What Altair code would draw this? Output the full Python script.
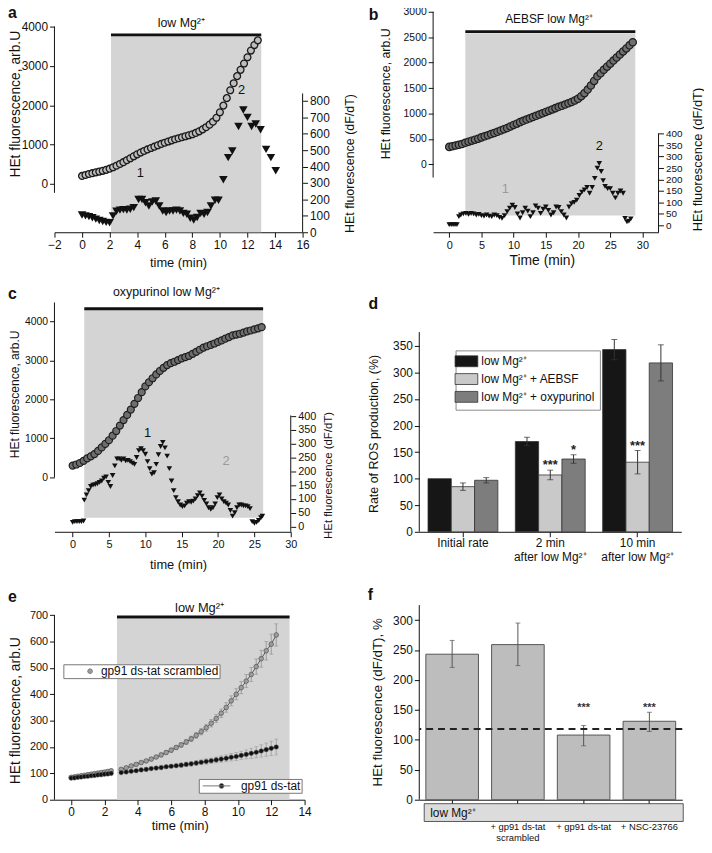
import altair as alt
import pandas as pd

FONT = "Liberation Sans"
INK = "#111111"
SHADE = "#d4d4d4"

# ---------------- panel a data ----------------
a_circle_t = [0, 0.25, 0.5, 0.75, 1.0, 1.25, 1.5, 1.75, 2.0, 2.25, 2.5, 2.75, 3.0, 3.25, 3.5, 3.75,
              4.0, 4.25, 4.5, 4.75, 5.0, 5.25, 5.5, 5.75, 6.0, 6.25, 6.5, 6.75, 7.0, 7.25, 7.5, 7.75,
              8.0, 8.25, 8.5, 8.75, 9.0, 9.25, 9.5, 9.75, 10.0, 10.25, 10.5, 10.75, 11.0, 11.25, 11.5,
              11.75, 12.0, 12.25, 12.5, 12.75]
a_circle_v = [200, 225, 250, 270, 290, 310, 330, 355, 385, 420, 460, 505, 550, 600, 650, 700, 750, 795,
              835, 875, 910, 945, 980, 1015, 1045, 1075, 1105, 1135, 1160, 1185, 1210, 1235, 1260, 1295,
              1335, 1385, 1440, 1505, 1580, 1680, 1820, 1990, 2180, 2380, 2560, 2740, 2900, 3060, 3220,
              3390, 3530, 3650]
a_tri_t = [0, 0.25, 0.5, 0.75, 1.0, 1.25, 1.5, 1.75, 2.0, 2.25, 2.5, 2.75, 3.0, 3.25, 3.5, 3.75, 4.1,
           4.35, 4.6, 4.85, 5.1, 5.35, 5.6, 5.85, 6.1, 6.35, 6.6, 6.85, 7.1, 7.35, 7.6, 7.85, 8.1, 8.35,
           8.6, 8.85, 9.1, 9.35, 9.65, 9.9, 10.25, 10.6, 10.9, 11.35, 11.7, 12.0, 12.3, 12.6, 12.95,
           13.35, 13.7, 14.05]
a_tri_v = [105, 100, 95, 88, 80, 72, 65, 60, 58, 100, 128, 135, 138, 135, 140, 150, 200, 200, 180, 160,
           185, 190, 160, 130, 120, 130, 130, 135, 130, 115, 110, 85, 75, 90, 115, 110, 120, 160, 195,
           195, 320, 455, 495, 645, 745, 700, 645, 660, 625, 505, 455, 375]
a_period = [2.1, 13.0]

# ---------------- panel b data ----------------
b_circle_t = [i * 0.5 for i in range(58)]
b_circle_v = [343, 355, 370, 385, 400, 425, 445, 465, 485, 505, 530, 550, 570, 595, 615, 640, 665, 690,
              715, 745, 775, 800, 830, 855, 880, 905, 930, 955, 980, 1005, 1030, 1055, 1080, 1105, 1130,
              1150, 1175, 1200, 1225, 1255, 1290, 1340, 1400, 1470, 1550, 1640, 1730, 1790, 1860, 1920,
              1980, 2040, 2100, 2160, 2220, 2280, 2340, 2400]
b_tri_t = [0, 0.3, 0.6, 0.9, 1.2, 1.5, 1.8, 2.2, 2.6, 3.0, 3.4, 3.8, 4.2, 4.6, 5.0, 5.4, 5.8, 6.2, 6.6,
           7.0, 7.4, 7.8, 8.2, 8.6, 9.0, 9.4, 9.8, 10.2, 10.6, 11.0, 11.4, 11.8, 12.2, 12.6, 13.0, 13.4,
           13.8, 14.2, 14.6, 15.0, 15.4, 15.8, 16.2, 16.6, 17.0, 17.4, 17.8, 18.2, 18.6, 19.0, 19.4,
           19.8, 20.2, 20.6, 21.0, 21.4, 21.8, 22.2, 22.6, 23.0, 23.3, 23.6, 23.9, 24.2, 24.6, 25.0,
           25.4, 25.8, 26.2, 26.6, 27.0, 27.3, 27.6, 27.9, 28.2]
b_tri_v = [3, 3, 3, 3, 3, 38, 45, 50, 52, 48, 52, 50, 45, 48, 42, 40, 45, 40, 38, 45, 42, 35, 30, 42,
           60, 75, 88, 78, 50, 32, 55, 75, 62, 38, 55, 85, 75, 52, 70, 80, 65, 45, 55, 80, 78, 60, 45,
           32, 80, 95, 100, 110, 130, 145, 155, 165, 140, 165, 205, 250, 270, 235, 195, 170, 160, 160,
           140, 120, 140, 150, 140, 30, 15, 18, 28]
b_period = [2.5, 28.9]

# ---------------- panel c data ----------------
c_circle_t = [i * 0.5 for i in range(53)]
c_circle_v = [297, 325, 364, 420, 483, 535, 593, 675, 763, 855, 949, 1065, 1186, 1325, 1466, 1600, 1737,
              1885, 2034, 2185, 2331, 2440, 2542, 2640, 2729, 2810, 2881, 2930, 2966, 3010, 3051, 3085,
              3119, 3170, 3220, 3275, 3331, 3365, 3398, 3435, 3475, 3515, 3559, 3600, 3644, 3665, 3686,
              3716, 3746, 3770, 3797, 3825, 3856]
c_tri_t = [0, 0.3, 0.6, 0.9, 1.2, 1.5, 1.6, 1.9, 2.2, 2.5, 2.8, 3.1, 3.4, 3.7, 4.0, 4.3, 4.6, 4.9, 5.2,
           5.5, 5.8, 6.1, 6.4, 6.7, 7.0, 7.3, 7.6, 7.9, 8.2, 8.5, 8.8, 9.1, 9.4, 9.7, 10.0, 10.3, 10.6,
           10.9, 11.2, 11.5, 11.8, 12.1, 12.4, 12.7, 13.0, 13.3, 13.6, 13.9, 14.2, 14.5, 14.8, 15.1,
           15.4, 15.7, 16.0, 16.3, 16.6, 16.9, 17.2, 17.5, 17.8, 18.1, 18.4, 18.7, 19.0, 19.3, 19.6,
           19.9, 20.2, 20.5, 20.8, 21.1, 21.4, 21.7, 22.0, 22.3, 22.6, 22.9, 23.2, 23.5, 23.8, 24.1,
           24.4, 24.7, 25.0, 25.3, 25.6, 25.9, 26.1]
c_tri_v = [15, 18, 18, 18, 18, 20, 96, 115, 130, 145, 150, 152, 155, 160, 165, 175, 180, 160, 145, 185,
           220, 245, 245, 240, 245, 238, 240, 235, 230, 225, 250, 275, 282, 275, 262, 235, 210, 190, 195,
           225, 260, 290, 305, 285, 255, 210, 165, 130, 105, 90, 78, 72, 75, 85, 90, 88, 92, 100, 112,
           122, 110, 95, 82, 68, 62, 68, 82, 105, 115, 100, 90, 85, 78, 58, 38, 50, 68, 78, 78, 75, 75,
           72, 65, 18, 12, 15, 22, 32, 38]
c_period = [1.6, 26.2]

# ---------------- panel d data ----------------
d_groups = ["Initial rate", "2 min\nafter low Mg²⁺", "10 min\nafter low Mg²⁺"]
d_series = ["low Mg²⁺", "low Mg²⁺ + AEBSF", "low Mg²⁺ + oxypurinol"]
d_low = [100, 170, 343]
d_low_err = [0, 8, 19]
d_aebsf = [85, 107, 131]
d_aebsf_err = [7, 9, 22]
d_oxy = [97, 137, 318]
d_oxy_err = [5, 8, 34]
d_aebsf_sig = ["", "***", "***"]
d_oxy_sig = ["", "*", ""]
d_colors = ["#161616", "#c9c9c9", "#7d7d7d"]

# ---------------- panel e data ----------------
e_t = [0, 0.2, 0.4, 0.6, 0.8, 1.0, 1.2, 1.4, 1.6, 1.8, 2.0, 2.2, 2.4,
       3.0, 3.3, 3.6, 3.9, 4.2, 4.5, 4.8, 5.1, 5.4, 5.7, 6.0, 6.3, 6.6, 6.9, 7.2, 7.5, 7.8, 8.1, 8.4,
       8.7, 9.0, 9.3, 9.6, 9.9, 10.2, 10.5, 10.8, 11.1, 11.4, 11.7, 12.0, 12.3]
e_seg = ["before"] * 13 + ["after"] * 32
e_scr = [85, 87, 89, 91, 93, 95, 97, 99, 101, 103, 105, 107, 110,
         115, 121, 128, 134, 141, 147, 154, 162, 170, 179, 188, 198, 208, 219, 231, 244, 258, 273, 290,
         308, 328, 350, 375, 400, 425, 450, 475, 505, 535, 565, 590, 625]
e_scr_err = [3, 3, 3, 4, 4, 4, 4, 5, 5, 5, 5, 6, 6,
             4, 4, 5, 5, 5, 6, 6, 6, 7, 7, 8, 8, 9, 9, 10, 11, 12, 13, 14, 15, 16, 18, 19, 21, 23, 25,
             27, 29, 32, 35, 38, 42]
e_ds = [82, 83, 85, 86, 88, 89, 91, 92, 94, 95, 97, 98, 100,
        103, 105, 108, 110, 113, 115, 118, 120, 122, 125, 127, 129, 131, 134, 136, 139, 142, 145, 148,
        151, 154, 157, 161, 164, 168, 172, 176, 180, 185, 190, 195, 200]
e_ds_err = [3, 3, 3, 3, 4, 4, 4, 4, 5, 5, 5, 5, 6,
            3, 3, 4, 4, 4, 5, 5, 5, 6, 6, 6, 7, 7, 8, 8, 9, 9, 10, 10, 11, 12, 13, 14, 15, 16, 17, 19,
            21, 23, 25, 27, 30]
e_names = ["gp91 ds-tat scrambled", "gp91 ds-tat"]
e_period = [2.75, 13.1]

# ---------------- panel f data ----------------
f_cats = ["low Mg²⁺", "+ gp91 ds-tat\nscrambled", "+ gp91 ds-tat", "+ NSC-23766"]
f_mean = [243, 259, 108, 131]
f_lo = [221, 224, 90, 114]
f_hi = [266, 295, 124, 146]
f_sig = ["", "", "***", "***"]
f_baseline = 118
f_sig_level = 158

one = pd.DataFrame({"k": [0]})

# legend anchors (orient "none" legends are placed relative to panel a's origin)
LEG_D = (405.7, 344.5)
LEG_E1 = (9, 662)
LEG_E2 = (146, 778)


def ax(**kw):
    d = dict(labelFont=FONT, titleFont=FONT, labelColor=INK, titleColor=INK, tickColor=INK,
             domainColor=INK, grid=False, labelFontWeight="normal", titleFontWeight="normal",
             tickSize=5, labelPadding=2, labelFlush=False, labelOverlap=False, tickWidth=1,
             domainWidth=1)
    d.update(kw)
    return alt.Axis(**d)


def letter(ch, x, y):
    return alt.Chart(one).mark_text(text=ch, font=FONT, fontSize=16, fontWeight="bold", color=INK,
                                    align="left", baseline="alphabetic").encode(
        x=alt.value(x), y=alt.value(y))


def time_panel(p):
    W, H = p["W"], p["H"]
    xs = alt.Scale(domain=p["xdom"], nice=False, zero=False)
    xa = ax(values=p["xticks"], format="d", title=p["xtitle"], titleX=p["xtitle_xy"][0],
            titleY=p["xtitle_xy"][1], titleBaseline="middle", titleAlign="center",
            labelFontSize=p["xfont"], titleFontSize=p["xtitle_font"])
    ls = alt.Scale(domain=p["ldom"], nice=False, zero=False)
    la = ax(orient="left", values=p["lticks"], format="d", domain=False, title="HEt fluorescence, arb.U",
            titleAngle=270, titleX=p["ltitle_xy"][0], titleY=p["ltitle_xy"][1], titleBaseline="middle",
            titleAlign="center", labelFontSize=p["lfont"], titleFontSize=p["ltitle_font"])
    rs = alt.Scale(domain=p["rdom"], nice=False, zero=False)
    ra = ax(orient="right", values=p["rticks"], format="d", domain=False, title="HEt fluorescence (dF/dT)",
            titleAngle=270, titleX=p["rtitle_xy"][0], titleY=p["rtitle_xy"][1], titleBaseline="middle",
            titleAlign="center", labelFontSize=p["rfont"], titleFontSize=p["rtitle_font"])

    def X(f):
        return alt.X(f, type="quantitative", scale=xs, axis=xa)

    def XD(v):
        return alt.XDatum(v, type="quantitative", scale=xs, axis=xa)

    def YL(f):
        return alt.Y(f, type="quantitative", scale=ls, axis=la)

    def YLD(v):
        return alt.YDatum(v, type="quantitative", scale=ls, axis=la)

    def YR(f):
        return alt.Y(f, type="quantitative", scale=rs, axis=ra)

    def YRD(v):
        return alt.YDatum(v, type="quantitative", scale=rs, axis=ra)

    per = pd.DataFrame({"t0": [p["period"][0]], "t1": [p["period"][1]]})
    circ = pd.DataFrame({"t": p["circ_t"], "v": p["circ_v"]})
    tri = pd.DataFrame({"t": p["tri_t"], "v": p["tri_v"]})
    y2 = alt.value(H) if p["shade_bot"] == "axis" else alt.Y2Datum(p["shade_bot"])
    cs = p["circ_style"]
    left = [
        alt.Chart(per).mark_rect(color=SHADE).encode(x=X("t0"), x2=alt.X2("t1"),
                                                     y=YLD(p["shade_top"]), y2=y2),
        alt.Chart(per).mark_rule(color=INK, strokeWidth=3).encode(x=X("t0"), x2=alt.X2("t1"),
                                                                  y=YLD(p["bar_y"])),
        alt.Chart(one).mark_rule(color=INK, strokeWidth=1).encode(
            x=alt.value(0), y=YLD(p["lrule"][0]), y2=alt.Y2Datum(p["lrule"][1])),
        alt.Chart(circ).mark_point(shape="circle", filled=True, size=cs["size"], fill=cs["fill"],
                                   stroke=cs["stroke"], strokeWidth=cs["sw"], opacity=1).encode(
            x=X("t"), y=YL("v")),
        alt.Chart(one).mark_text(text=p["cond"], font=FONT, fontSize=p["cond_font"], color=INK,
                                 baseline="middle").encode(x=XD(p["cond_xy"][0]), y=YLD(p["cond_xy"][1])),
        letter(p["letter"], p["letter_xy"][0], p["letter_xy"][1]),
    ]
    for txt, t, v, col in p["left_labels"]:
        left.append(alt.Chart(one).mark_text(text=txt, font=FONT, fontSize=13, color=col,
                                             baseline="middle").encode(x=XD(t), y=YLD(v)))
    right = [
        alt.Chart(tri).mark_point(shape="triangle-down", filled=True, color=INK, size=p["tri_size"],
                                  opacity=1).encode(x=X("t"), y=YR("v")),
        alt.Chart(one).mark_rule(color=INK, strokeWidth=1).encode(
            x=alt.value(W), y=YRD(p["rrule"][0]), y2=alt.Y2Datum(p["rrule"][1])),
    ]
    for txt, t, v, col in p["right_labels"]:
        right.append(alt.Chart(one).mark_text(text=txt, font=FONT, fontSize=13, color=col,
                                              baseline="middle").encode(x=XD(t), y=YRD(v)))
    return alt.layer(alt.layer(*left), alt.layer(*right)).resolve_scale(y="independent").properties(
        width=W, height=H)


panel_a = time_panel(dict(
    W=251, H=225, letter="a", letter_xy=(-47, 8),
    xdom=[-2, 16], xticks=list(range(-2, 17, 2)), xtitle="time (min)", xtitle_xy=(125, 31), xfont=12,
    xtitle_font=13,
    ldom=[-1233, 4428], lticks=[0, 1000, 2000, 3000, 4000], lrule=[-230, 4000], ltitle_xy=(-39, 95),
    lfont=12, ltitle_font=14,
    rdom=[0, 1356], rticks=list(range(0, 801, 100)), rrule=[0, 846], rtitle_xy=(47, 155), rfont=12,
    rtitle_font=12.6,
    circ_t=a_circle_t, circ_v=a_circle_v, circ_style=dict(size=48, fill="#bdbdbd", stroke="#1a1a1a", sw=1.3),
    tri_t=a_tri_t, tri_v=a_tri_v, tri_size=75, period=a_period, shade_top=3770, shade_bot="axis",
    bar_y=3790, cond="low Mg²⁺", cond_xy=(7.2, 4100), cond_font=12.5,
    left_labels=[("1", 4.22, 270, INK), ("2", 11.58, 2397, INK)], right_labels=[]))

panel_b = time_panel(dict(
    W=228, H=225, letter="b", letter_xy=(-65, 10),
    xdom=[-2.5, 32.5], xticks=list(range(0, 31, 5)), xtitle="Time (min)", xtitle_xy=(110, 28.5),
    xfont=11, xtitle_font=14,
    ldom=[-1336, 3039], lticks=list(range(0, 3001, 500)), lrule=[-260, 3000], ltitle_xy=(-48, 84.5),
    lfont=10.5, ltitle_font=12.5,
    rdom=[-30.2, 940.7], rticks=list(range(0, 401, 50)), rrule=[-30.2, 402], rtitle_xy=(39, 151),
    rfont=10, rtitle_font=13,
    circ_t=b_circle_t, circ_v=b_circle_v, circ_style=dict(size=55, fill="#707070", stroke="#1e1e1e", sw=1.2),
    tri_t=b_tri_t, tri_v=b_tri_v, tri_size=32, period=b_period, shade_top=2580, shade_bot=-1005,
    bar_y=2610, cond="AEBSF low Mg²⁺", cond_xy=(15.5, 2850), cond_font=12,
    left_labels=[], right_labels=[("1", 8.7, 158, "#9a9a9a"), ("2", 23.3, 345, INK)]))

panel_c = time_panel(dict(
    W=239, H=245, letter="c", letter_xy=(-47, 9.7),
    xdom=[-2.5, 30], xticks=list(range(0, 31, 5)), xtitle="time (min)", xtitle_xy=(125, 33), xfont=11,
    xtitle_font=13,
    ldom=[-1405, 4821], lticks=[0, 1000, 2000, 3000, 4000], lrule=[0, 4490], ltitle_xy=(-40, 105.5),
    lfont=10.5, ltitle_font=12.2,
    rdom=[-19, 858.4], rticks=list(range(0, 401, 50)), rrule=[-19, 402.5], rtitle_xy=(38.5, 187.5),
    rfont=11, rtitle_font=11.5,
    circ_t=c_circle_t, circ_v=c_circle_v, circ_style=dict(size=50, fill="#6e6e6e", stroke="#1e1e1e", sw=1.2),
    tri_t=c_tri_t, tri_v=c_tri_v, tri_size=32, period=c_period, shade_top=4300, shade_bot=-1042,
    bar_y=4330, cond="oxypurinol low Mg²⁺", cond_xy=(12.9, 4745), cond_font=12.5,
    left_labels=[], right_labels=[("1", 10.3, 340, INK), ("2", 21.1, 239, "#9a9a9a")]))

# ---------------- panel d ----------------
rows = []
for s, vals, errs, sig in [(d_series[0], d_low, d_low_err, ["", "", ""]),
                           (d_series[1], d_aebsf, d_aebsf_err, d_aebsf_sig),
                           (d_series[2], d_oxy, d_oxy_err, d_oxy_sig)]:
    for g, v, e, sg in zip(d_groups, vals, errs, sig):
        rows.append({"group": g, "series": s, "mean": v, "err": e, "lo": v - e, "hi": v + e, "sig": sg})
d_df = pd.DataFrame(rows)


def bar_panel_d():
    W, H = 265, 245
    ys = alt.Scale(domain=[0, 456], nice=False, zero=False)
    ya = ax(values=list(range(0, 351, 50)), format="d", domain=False, title="Rate of ROS production, (%)",
            titleAngle=270, titleX=-46, titleY=145.5, titleBaseline="middle", titleAlign="center",
            labelFontSize=12, titleFontSize=12.6)
    xa = ax(title=None, labelAngle=0, labelFontSize=12, labelLineHeight=14, labelPadding=1,
            labelExpr="split(datum.label, '\\n')")
    xs = alt.Scale(paddingInner=0.2, paddingOuter=0.1)

    def X():
        return alt.X("group:N", sort=d_groups, scale=xs, axis=xa)

    def XO():
        return alt.XOffset("series:N", sort=d_series, scale=alt.Scale(paddingInner=0, paddingOuter=0))

    def Y(f):
        return alt.Y(f, type="quantitative", scale=ys, axis=ya)

    base = alt.Chart(d_df)
    bars = base.mark_bar(stroke="#333", strokeWidth=0.8, opacity=1).encode(
        x=X(), xOffset=XO(), y=Y("mean"),
        color=alt.Color("series:N", sort=d_series,
                        scale=alt.Scale(domain=d_series, range=d_colors),
                        legend=alt.Legend(orient="none", legendX=LEG_D[0], legendY=LEG_D[1], title=None,
                                          symbolType="M-2.09,-1H2.09V1H-2.09Z", symbolSize=121,
                                          symbolStrokeColor="#333", symbolStrokeWidth=0.8,
                                          labelFont=FONT, labelFontSize=12, labelColor=INK,
                                          labelOffset=9, padding=5, rowPadding=2,
                                          strokeColor="#8a8a8a", fillColor="white")))
    eb = base.transform_filter("datum.err > 0")
    err = eb.mark_rule(color="#333", strokeWidth=1).encode(x=X(), xOffset=XO(), y=Y("lo"),
                                                           y2=alt.Y2("hi"))
    cap_hi = eb.mark_tick(orient="horizontal", size=6, thickness=1, color="#333").encode(
        x=X(), xOffset=XO(), y=Y("hi"))
    cap_lo = eb.mark_tick(orient="horizontal", size=6, thickness=1, color="#333").encode(
        x=X(), xOffset=XO(), y=Y("lo"))
    stars = base.transform_filter("datum.sig != ''").mark_text(
        font=FONT, fontSize=13, fontWeight="bold", color="#222", baseline="alphabetic", dy=-1).encode(
        x=X(), xOffset=XO(), y=Y("hi"), text="sig:N")
    rule = alt.Chart(one).mark_rule(color=INK, strokeWidth=1).encode(
        x=alt.value(0), y=alt.YDatum(0, type="quantitative", scale=ys, axis=ya), y2=alt.Y2Datum(376))
    return alt.layer(rule, bars, err, cap_hi, cap_lo, stars,
                     letter("d", -51.3, 19.7)).properties(width=W, height=H)


# ---------------- panel e ----------------
n_e = len(e_t)
e_df = pd.DataFrame({
    "t": e_t + e_t,
    "v": e_scr + e_ds,
    "err": e_scr_err + e_ds_err,
    "seg": e_seg + e_seg,
    "series": [e_names[0]] * n_e + [e_names[1]] * n_e,
})
e_df["lo"] = e_df["v"] - e_df["err"]
e_df["hi"] = e_df["v"] + e_df["err"]

SCR_SYM = "M7.47,0A0.8,0.8 0 1 1 5.87,0A0.8,0.8 0 1 1 7.47,0Z"
DS_SYM = "M-1,0H8.33M6.13,0A0.8,0.8 0 1 1 4.53,0A0.8,0.8 0 1 1 6.13,0Z"


def panel_e_chart():
    W, H = 253, 212
    xs = alt.Scale(domain=[-1, 14], nice=False, zero=False)
    xa = ax(values=list(range(0, 15, 2)), format="d", title="time (min)", titleX=126.7, titleY=26.5,
            titleBaseline="middle", titleAlign="center", labelFontSize=12, titleFontSize=13)
    ys = alt.Scale(domain=[0, 795], nice=False, zero=False)
    ya = ax(values=list(range(0, 701, 100)), format="d", domain=False, title="HEt fluorescence, arb.U",
            titleAngle=270, titleX=-39, titleY=121.5, titleBaseline="middle", titleAlign="center",
            labelFontSize=11, titleFontSize=14)

    def X(f):
        return alt.X(f, type="quantitative", scale=xs, axis=xa)

    def Y(f):
        return alt.Y(f, type="quantitative", scale=ys, axis=ya)

    def YD(v):
        return alt.YDatum(v, type="quantitative", scale=ys, axis=ya)

    per = pd.DataFrame({"t0": [e_period[0]], "t1": [e_period[1]]})
    shade = alt.Chart(per).mark_rect(color=SHADE).encode(x=X("t0"), x2=alt.X2("t1"), y=YD(686),
                                                         y2=alt.value(H))
    bar = alt.Chart(per).mark_rule(color=INK, strokeWidth=3).encode(x=X("t0"), x2=alt.X2("t1"), y=YD(693))
    cond = alt.Chart(one).mark_text(text="low Mg²⁺", font=FONT, fontSize=13, color=INK,
                                    baseline="middle").encode(
        x=alt.XDatum(7.7, type="quantitative", scale=xs, axis=xa), y=YD(728))
    rule = alt.Chart(one).mark_rule(color=INK).encode(x=alt.value(0), y=YD(0), y2=alt.Y2Datum(700))

    scr = alt.Chart(e_df).transform_filter(alt.datum.series == e_names[0])
    ds = alt.Chart(e_df).transform_filter(alt.datum.series == e_names[1])
    layers = [shade, bar, cond, rule]
    for src, ecol in [(scr, "#8c8c8c"), (ds, "#9a9a9a")]:
        layers.append(src.mark_rule(color=ecol, strokeWidth=0.8).encode(x=X("t"), y=Y("lo"), y2=alt.Y2("hi")))
        layers.append(src.mark_tick(orient="horizontal", size=4, thickness=0.8, color=ecol).encode(
            x=X("t"), y=Y("hi")))
        layers.append(src.mark_tick(orient="horizontal", size=4, thickness=0.8, color=ecol).encode(
            x=X("t"), y=Y("lo")))
    layers.append(scr.mark_line(color="#555", strokeWidth=1).encode(x=X("t"), y=Y("v"), detail="seg:N"))
    layers.append(scr.mark_point(filled=True, size=22, stroke="#444", strokeWidth=0.6, opacity=1).encode(
        x=X("t"), y=Y("v"),
        fill=alt.Fill("series:N", scale=alt.Scale(domain=[e_names[0]], range=["#9c9c9c"]),
                      legend=alt.Legend(orient="none", legendX=LEG_E1[0], legendY=LEG_E1[1],
                                        title=None, symbolType=SCR_SYM, symbolSize=36,
                                        symbolStrokeColor="#555", symbolStrokeWidth=0.6, labelOffset=25,
                                        padding=1, labelFont=FONT, labelFontSize=12, labelColor=INK,
                                        strokeColor="#777", fillColor="white"))))
    layers.append(ds.mark_line(color=INK, strokeWidth=1.5).encode(x=X("t"), y=Y("v"), detail="seg:N"))
    layers.append(ds.mark_point(filled=True, size=22, fill=INK, strokeWidth=0.5, opacity=1).encode(
        x=X("t"), y=Y("v"),
        stroke=alt.Stroke("series:N", scale=alt.Scale(domain=[e_names[1]], range=["#777777"]),
                          legend=alt.Legend(orient="none", legendX=LEG_E2[0], legendY=LEG_E2[1],
                                            title=None, symbolType=DS_SYM, symbolSize=36,
                                            symbolFillColor=INK, symbolStrokeWidth=1, labelOffset=29.7,
                                            padding=1, labelFont=FONT, labelFontSize=12, labelColor=INK,
                                            strokeColor="#777", fillColor="white"))))
    layers.append(letter("e", -47, 12.3))
    return alt.layer(*layers).properties(width=W, height=H)


# ---------------- panel f ----------------
f_df = pd.DataFrame({"cat": f_cats, "mean": f_mean, "lo": f_lo, "hi": f_hi, "sig": f_sig})


def panel_f_chart():
    W, H = 266, 212
    ys = alt.Scale(domain=[0, 350], nice=False, zero=False)
    ya = ax(values=list(range(0, 301, 50)), format="d", domain=False, title="HEt fluorescence (dF/dT), %",
            titleAngle=270, titleX=-42, titleY=113, titleBaseline="middle", titleAlign="center",
            labelFontSize=12, titleFontSize=13.5)
    xa = ax(title=None, labelAngle=0, labelFontSize=9.5, labelLineHeight=11, labelPadding=18, tickSize=4,
            labelExpr="datum.index == 0 ? '' : split(datum.label, '\\n')")
    xs = alt.Scale(paddingInner=0.2, paddingOuter=0.1)

    def X():
        return alt.X("cat:N", sort=f_cats, scale=xs, axis=xa)

    def Y(f):
        return alt.Y(f, type="quantitative", scale=ys, axis=ya)

    base = alt.Chart(f_df)
    bars = base.mark_bar(color="#bdbdbd", stroke="#555", strokeWidth=1).encode(x=X(), y=Y("mean"))
    err = base.mark_rule(color="#555", strokeWidth=1).encode(x=X(), y=Y("lo"), y2=alt.Y2("hi"))
    cap_hi = base.mark_tick(orient="horizontal", size=5, thickness=1, color="#555").encode(x=X(), y=Y("hi"))
    cap_lo = base.mark_tick(orient="horizontal", size=5, thickness=1, color="#555").encode(x=X(), y=Y("lo"))
    dash = alt.Chart(one).mark_rule(color="#222", strokeWidth=2, strokeDash=[7, 5]).encode(
        y=alt.YDatum(f_baseline, type="quantitative", scale=ys, axis=ya))
    stars = base.transform_filter("datum.sig != ''").mark_text(
        font=FONT, fontSize=11, fontWeight="bold", color="#333", baseline="middle", dy=3).encode(
        x=X(), y=alt.YDatum(f_sig_level, type="quantitative", scale=ys, axis=ya), text="sig:N")
    rule = alt.Chart(one).mark_rule(color=INK).encode(
        x=alt.value(0), y=alt.YDatum(0, type="quantitative", scale=ys, axis=ya), y2=alt.Y2Datum(325))
    box = alt.Chart(one).mark_rect(fill="#dcdcdc", stroke="#333", strokeWidth=0.8).encode(
        x=alt.value(5), x2=alt.value(267), y=alt.value(216), y2=alt.value(234))
    box_text = alt.Chart(one).mark_text(text=f_cats[0], font=FONT, fontSize=12, color=INK, align="left",
                                        baseline="middle").encode(x=alt.value(11), y=alt.value(225))
    return alt.layer(rule, bars, err, cap_hi, cap_lo, dash, stars, box, box_text,
                     letter("f", -52, 10.3)).properties(width=W, height=H)


row1 = alt.hconcat(panel_a, panel_b, spacing=132, bounds="flush")
row2 = alt.hconcat(panel_c, bar_panel_d(), spacing=130, bounds="flush")
row3 = alt.hconcat(panel_e_chart(), panel_f_chart(), spacing=116, bounds="flush")

chart = alt.vconcat(row1, row2, row3, spacing=16).properties(
    padding={"left": 0, "top": -8, "right": 0, "bottom": 0}
).configure_view(stroke=None)

chart.save("out.html", embed_options={"renderer": "svg", "actions": False})
